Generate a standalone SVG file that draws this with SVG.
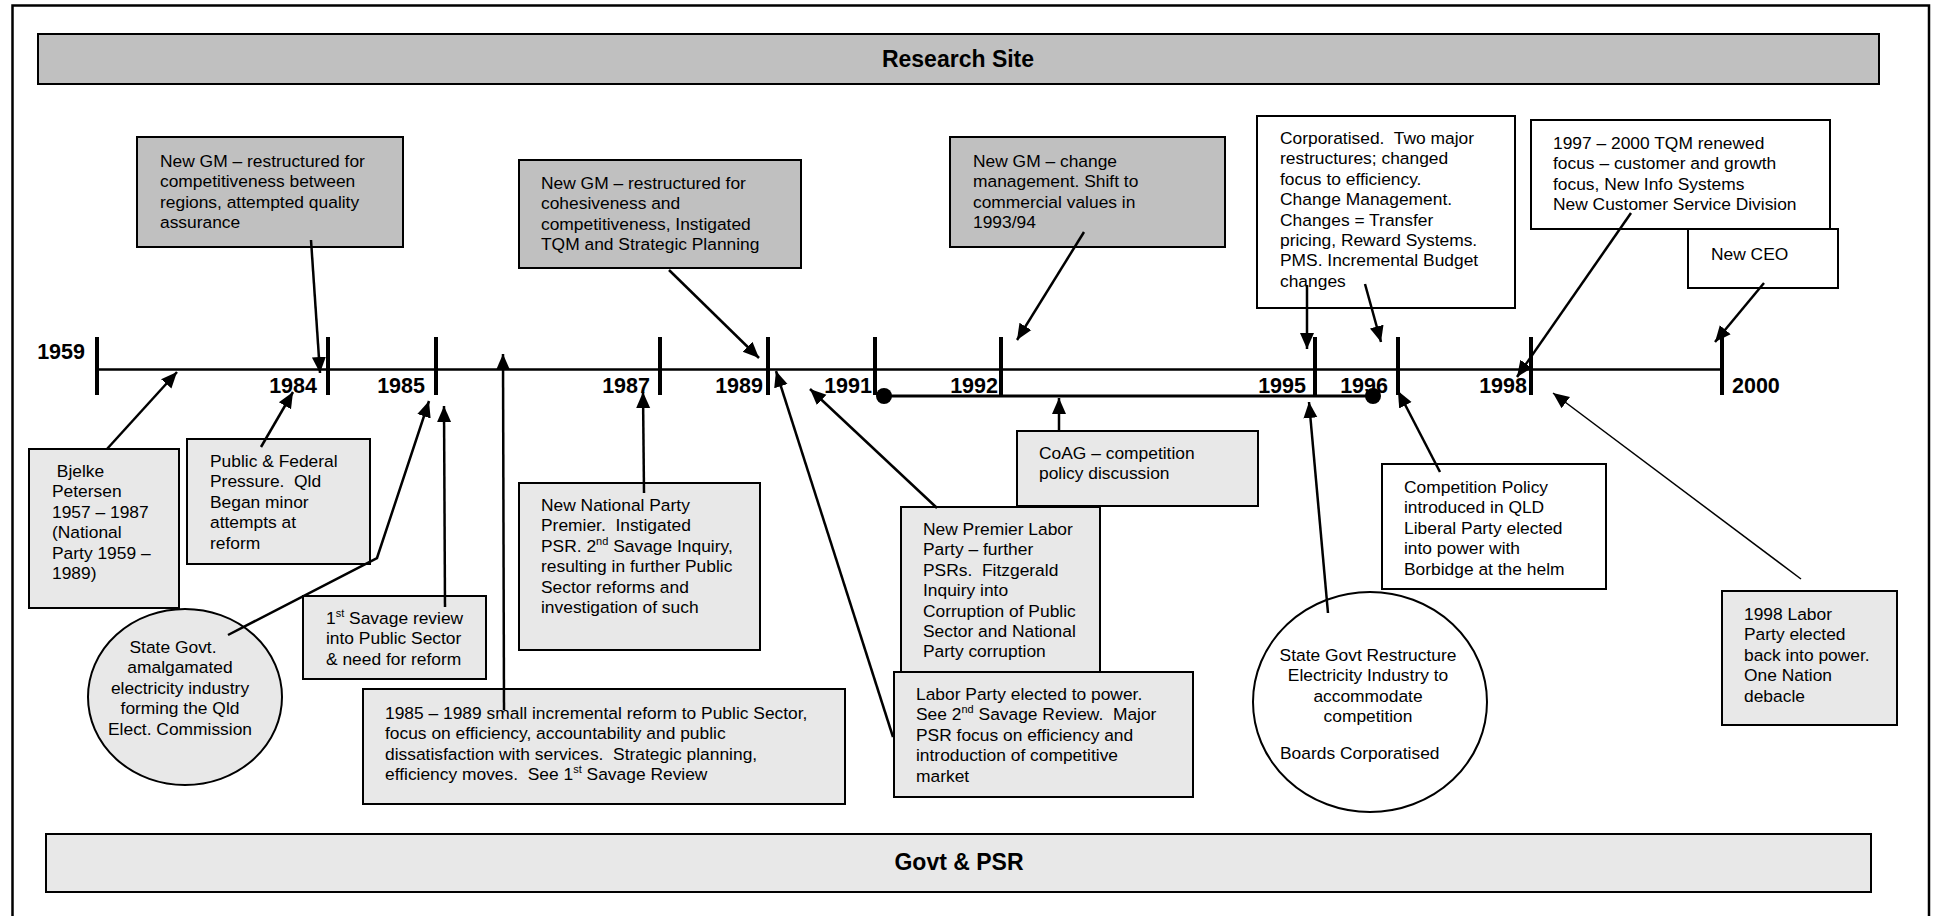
<svg xmlns="http://www.w3.org/2000/svg" width="1935" height="916" viewBox="0 0 1935 916" xml:space="preserve">
<style>
text{font-family:"Liberation Sans",Arial,sans-serif;font-size:17.4px;fill:#000;white-space:pre}
.hd{font-weight:bold;font-size:23px}
.yr{font-weight:bold;font-size:21.5px}
.dk{fill:#c0c0c0;stroke:#000;stroke-width:2}
.lt{fill:#e8e8e8;stroke:#000;stroke-width:2}
.wh{fill:#fff;stroke:#000;stroke-width:2}
.c{fill:none;stroke:#000;stroke-width:2.5;marker-end:url(#ah)}
.thin{stroke-width:1.5}
.tk{stroke:#000;stroke-width:4}
.m{text-anchor:middle}
.e{text-anchor:end}
.sup{font-size:11px}
</style>
<defs>
<marker id="ah" markerUnits="userSpaceOnUse" markerWidth="16" markerHeight="16" refX="16" refY="8" orient="auto">
<path d="M0,1 L16,8 L0,15 z" fill="#000"/>
</marker>
</defs>
<rect x="0" y="0" width="1935" height="916" fill="#fff"/>
<rect x="12.5" y="5.5" width="1916.5" height="930" fill="none" stroke="#000" stroke-width="2.5"/>

<g id="research-site">
<rect class="dk" x="38" y="34" width="1841" height="50"/>
<text class="hd m" x="958" y="67">Research Site</text>
</g>
<g id="govt-psr">
<rect class="lt" x="46" y="834" width="1825" height="58"/>
<text class="hd m" x="959" y="870">Govt &amp; PSR</text>
</g>

<g id="timeline">
<line x1="97" y1="369.5" x2="1722" y2="369.5" stroke="#000" stroke-width="2.5"/>
<line class="tk" x1="97" y1="337" x2="97" y2="395"/>
<line class="tk" x1="328" y1="337" x2="328" y2="395"/>
<line class="tk" x1="436" y1="337" x2="436" y2="395"/>
<line class="tk" x1="660" y1="337" x2="660" y2="395"/>
<line class="tk" x1="768" y1="337" x2="768" y2="395"/>
<line class="tk" x1="875" y1="337" x2="875" y2="395"/>
<line class="tk" x1="1001" y1="337" x2="1001" y2="395"/>
<line class="tk" x1="1315" y1="337" x2="1315" y2="395"/>
<line class="tk" x1="1398" y1="337" x2="1398" y2="395"/>
<line class="tk" x1="1531" y1="337" x2="1531" y2="395"/>
<line class="tk" x1="1722" y1="337" x2="1722" y2="395"/>
<text class="yr e" x="85" y="359">1959</text>
<text class="yr e" x="317" y="393">1984</text>
<text class="yr e" x="425" y="393">1985</text>
<text class="yr e" x="650" y="393">1987</text>
<text class="yr e" x="763" y="393">1989</text>
<text class="yr e" x="872" y="393">1991</text>
<text class="yr e" x="998" y="393">1992</text>
<text class="yr e" x="1306" y="393">1995</text>
<text class="yr e" x="1388" y="393">1996</text>
<text class="yr e" x="1527" y="393">1998</text>
<text class="yr" x="1732" y="393">2000</text>
<line x1="884" y1="396" x2="1373" y2="396" stroke="#000" stroke-width="3"/>
<circle cx="884" cy="396" r="8"/>
<circle cx="1373" cy="396" r="8"/>
</g>

<g id="n-gm1">
<rect class="dk" x="137" y="137" width="266" height="110"/>
<text x="160" y="167">New GM – restructured for</text>
<text x="160" y="187.4">competitiveness between</text>
<text x="160" y="207.8">regions, attempted quality</text>
<text x="160" y="228.2">assurance</text>
</g>
<g id="n-gm2">
<rect class="dk" x="519" y="160" width="282" height="108"/>
<text x="541" y="189">New GM – restructured for</text>
<text x="541" y="209.4">cohesiveness and</text>
<text x="541" y="229.8">competitiveness, Instigated</text>
<text x="541" y="250.2">TQM and Strategic Planning</text>
</g>
<g id="n-gm3">
<rect class="dk" x="950" y="137" width="275" height="110"/>
<text x="973" y="167">New GM – change</text>
<text x="973" y="187.4">management. Shift to</text>
<text x="973" y="207.8">commercial values in</text>
<text x="973" y="228.2">1993/94</text>
</g>
<g id="n-corp">
<rect class="wh" x="1257" y="116" width="258" height="192"/>
<text x="1280" y="144">Corporatised.  Two major</text>
<text x="1280" y="164.4">restructures; changed</text>
<text x="1280" y="184.8">focus to efficiency.</text>
<text x="1280" y="205.2">Change Management.</text>
<text x="1280" y="225.6">Changes = Transfer</text>
<text x="1280" y="246">pricing, Reward Systems.</text>
<text x="1280" y="266.4">PMS. Incremental Budget</text>
<text x="1280" y="286.8">changes</text>
</g>
<g id="n-tqm">
<rect class="wh" x="1531" y="120" width="299" height="109"/>
<text x="1553" y="149">1997 – 2000 TQM renewed</text>
<text x="1553" y="169.4">focus – customer and growth</text>
<text x="1553" y="189.8">focus, New Info Systems</text>
<text x="1553" y="210.2">New Customer Service Division</text>
</g>
<g id="n-ceo">
<rect class="wh" x="1688" y="229" width="150" height="59"/>
<text x="1711" y="260">New CEO</text>
</g>

<g id="n-bjelke">
<rect class="lt" x="29" y="449" width="150" height="159"/>
<text x="52" y="477"> Bjelke</text>
<text x="52" y="497.4">Petersen</text>
<text x="52" y="517.8">1957 – 1987</text>
<text x="52" y="538.2">(National</text>
<text x="52" y="558.6">Party 1959 –</text>
<text x="52" y="579">1989)</text>
</g>
<g id="n-pressure">
<rect class="lt" x="187" y="439" width="183" height="125"/>
<text x="210" y="467">Public &amp; Federal</text>
<text x="210" y="487.4">Pressure.  Qld</text>
<text x="210" y="507.8">Began minor</text>
<text x="210" y="528.2">attempts at</text>
<text x="210" y="548.6">reform</text>
</g>
<g id="n-amalg">
<ellipse class="lt" cx="185" cy="697" rx="97" ry="88"/>
<text class="m" x="173" y="653">State Govt.</text>
<text class="m" x="180" y="673.4">amalgamated</text>
<text class="m" x="180" y="693.8">electricity industry</text>
<text class="m" x="180" y="714.2">forming the Qld</text>
<text class="m" x="180" y="735">Elect. Commission</text>
</g>
<g id="n-savage1">
<rect class="lt" x="303" y="596" width="183" height="83"/>
<text x="326" y="624">1<tspan class="sup" dy="-7">st</tspan><tspan dy="7"> Savage review</tspan></text>
<text x="326" y="644.4">into Public Sector</text>
<text x="326" y="664.8">&amp; need for reform</text>
</g>
<g id="n-1985-89">
<rect class="lt" x="363" y="689" width="482" height="115"/>
<text x="385" y="719">1985 – 1989 small incremental reform to Public Sector,</text>
<text x="385" y="739.4">focus on efficiency, accountability and public</text>
<text x="385" y="759.8">dissatisfaction with services.  Strategic planning,</text>
<text x="385" y="780.2">efficiency moves.  See 1<tspan class="sup" dy="-7">st</tspan><tspan dy="7"> Savage Review</tspan></text>
</g>
<g id="n-natparty">
<rect class="lt" x="519" y="483" width="241" height="167"/>
<text x="541" y="511">New National Party</text>
<text x="541" y="531.4">Premier.  Instigated</text>
<text x="541" y="551.8">PSR. 2<tspan class="sup" dy="-7">nd</tspan><tspan dy="7"> Savage Inquiry,</tspan></text>
<text x="541" y="572.2">resulting in further Public</text>
<text x="541" y="592.6">Sector reforms and</text>
<text x="541" y="613">investigation of such</text>
</g>
<g id="n-premier">
<rect class="lt" x="901" y="507" width="199" height="166"/>
<text x="923" y="535">New Premier Labor</text>
<text x="923" y="555.4">Party – further</text>
<text x="923" y="575.8">PSRs.  Fitzgerald</text>
<text x="923" y="596.2">Inquiry into</text>
<text x="923" y="616.6">Corruption of Public</text>
<text x="923" y="637">Sector and National</text>
<text x="923" y="657.4">Party corruption</text>
</g>
<g id="n-labor">
<rect class="lt" x="894" y="672" width="299" height="125"/>
<text x="916" y="700">Labor Party elected to power.</text>
<text x="916" y="720.4">See 2<tspan class="sup" dy="-7">nd</tspan><tspan dy="7"> Savage Review.  Major</tspan></text>
<text x="916" y="740.8">PSR focus on efficiency and</text>
<text x="916" y="761.2">introduction of competitive</text>
<text x="916" y="781.6">market</text>
</g>
<g id="n-coag">
<rect class="lt" x="1017" y="431" width="241" height="75"/>
<text x="1039" y="459">CoAG – competition</text>
<text x="1039" y="479.4">policy discussion</text>
</g>
<g id="n-restructure">
<ellipse class="wh" cx="1370" cy="702" rx="117" ry="110"/>
<text class="m" x="1368" y="661">State Govt Restructure</text>
<text class="m" x="1368" y="681.4">Electricity Industry to</text>
<text class="m" x="1368" y="701.8">accommodate</text>
<text class="m" x="1368" y="722.2">competition</text>
<text x="1280" y="759">Boards Corporatised</text>
</g>
<g id="n-comppolicy">
<rect class="wh" x="1382" y="464" width="224" height="125"/>
<text x="1404" y="493">Competition Policy</text>
<text x="1404" y="513.4">introduced in QLD</text>
<text x="1404" y="533.8">Liberal Party elected</text>
<text x="1404" y="554.2">into power with</text>
<text x="1404" y="574.6">Borbidge at the helm</text>
</g>
<g id="n-1998labor">
<rect class="lt" x="1722" y="591" width="175" height="134"/>
<text x="1744" y="620">1998 Labor</text>
<text x="1744" y="640.4">Party elected</text>
<text x="1744" y="660.8">back into power.</text>
<text x="1744" y="681.2">One Nation</text>
<text x="1744" y="701.6">debacle</text>
</g>

<g id="connectors">
<line class="c" x1="311" y1="240" x2="320" y2="373"/>
<line class="c" x1="669" y1="270" x2="759" y2="358"/>
<line class="c" x1="1084" y1="232" x2="1017" y2="340"/>
<line class="c" x1="1307" y1="285" x2="1307" y2="349"/>
<line class="c" x1="1365" y1="284" x2="1381" y2="342"/>
<line class="c" x1="1631" y1="213" x2="1517" y2="377"/>
<line class="c" x1="1764" y1="283" x2="1715" y2="342"/>
<line class="c" x1="107" y1="449" x2="177" y2="372"/>
<line class="c" x1="261" y1="447" x2="293" y2="392"/>
<polyline class="c" points="228,635 377,558 429,401"/>
<line class="c" x1="445" y1="607" x2="444" y2="406"/>
<line class="c" x1="504" y1="710" x2="503" y2="354"/>
<line class="c" x1="644" y1="493" x2="643" y2="392"/>
<line class="c" x1="937" y1="508" x2="810" y2="389"/>
<line class="c" x1="893" y1="737" x2="776" y2="371"/>
<line class="c" x1="1059" y1="431" x2="1059" y2="398"/>
<line class="c" x1="1328" y1="613" x2="1309" y2="402"/>
<line class="c" x1="1440" y1="472" x2="1398" y2="391"/>
<line class="c thin" x1="1801" y1="579" x2="1553" y2="393"/>
</g>
</svg>
